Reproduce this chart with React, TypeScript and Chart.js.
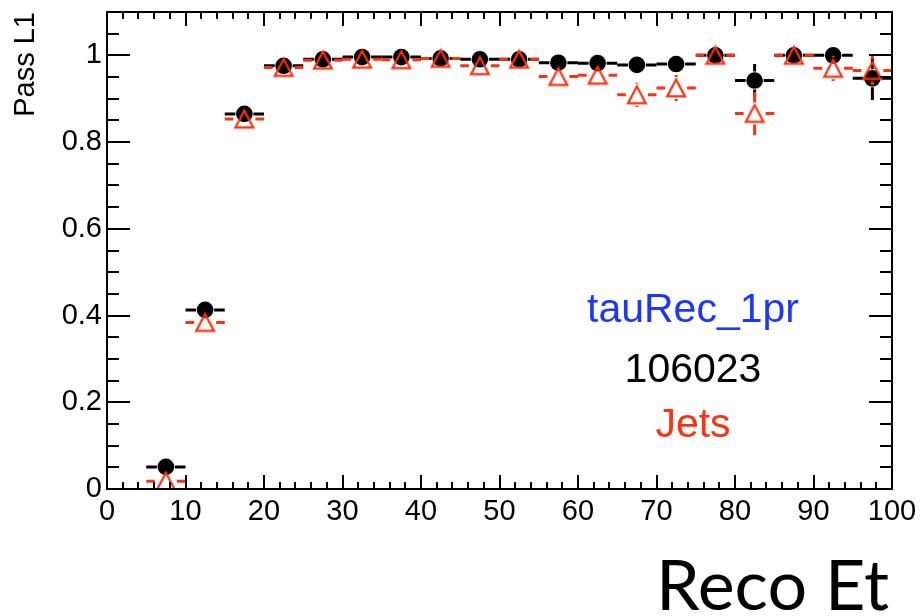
import React, { useEffect, useRef } from "react";
import { Chart, registerables } from "chart.js";

Chart.register(...registerables);

// ---- data ----
const BIN_CENTERS = [7.5, 12.5, 17.5, 22.5, 27.5, 32.5, 37.5, 42.5, 47.5, 52.5, 57.5, 62.5, 67.5, 72.5, 77.5, 82.5, 87.5, 92.5, 97.5];
const BIN_HALF_WIDTH = 2.5;
const TAU_EFF = [0.051, 0.413, 0.865, 0.976, 0.991, 0.996, 0.996, 0.993, 0.991, 0.991, 0.983, 0.982, 0.978, 0.98, 1.0, 0.942, 1.0, 1.0, 0.947];
const TAU_ERR = [0.01, 0.015, 0.01, 0.005, 0.004, 0.003, 0.003, 0.003, 0.004, 0.004, 0.008, 0.008, 0.01, 0.01, 0.002, 0.038, 0.002, 0.004, 0.05];
const JET_EFF = [0.018, 0.384, 0.853, 0.972, 0.989, 0.991, 0.99, 0.993, 0.976, 0.991, 0.951, 0.954, 0.909, 0.925, 1.0, 0.866, 1.0, 0.97, 0.965];
const JET_ERR = [0.008, 0.015, 0.012, 0.006, 0.004, 0.004, 0.004, 0.004, 0.008, 0.004, 0.012, 0.012, 0.028, 0.03, 0.002, 0.05, 0.002, 0.029, 0.034];
const X_TICKS = [0, 10, 20, 30, 40, 50, 60, 70, 80, 90, 100];
const Y_TICKS = [0, 0.2, 0.4, 0.6, 0.8, 1];
const X_MINOR_STEP = 2;
const Y_MINOR_STEP = 0.05;
const X_RANGE = [0, 100];
const Y_RANGE = [0, 1.1];
const LABELS = ["tauRec_1pr", "106023", "Jets"];
const X_TITLE = "Reco Et";
const Y_TITLE = "Pass L1";

const BLACK = "#000000";
const RED = "#ff3010";
const BLUE = "#1a36ff";
const FONT = "'Liberation Sans', Arial, Helvetica, sans-serif";

function makeTriangle(color: string): HTMLCanvasElement {
  const c = document.createElement("canvas");
  c.width = 22;
  c.height = 22;
  const g = c.getContext("2d")!;
  g.strokeStyle = color;
  g.lineWidth = 2.2;
  g.lineJoin = "miter";
  g.beginPath();
  g.moveTo(11, 2.5);
  g.lineTo(19.9, 19.4);
  g.lineTo(2.1, 19.4);
  g.closePath();
  g.stroke();
  return c;
}

const errorPlugin = {
  id: "rootErrors",
  beforeDatasetDraw(chart: any, args: any) {
    const ds = chart.data.datasets[args.index];
    const errs: number[] = ds.errs;
    const gap: number = ds.gap;
    const xs = chart.scales.x;
    const ys = chart.scales.y;
    const ctx = chart.ctx;
    ctx.save();
    ctx.strokeStyle = ds.errColor;
    ctx.lineWidth = 3;
    ctx.lineCap = "butt";
    ds.data.forEach((p: any, i: number) => {
      const px = xs.getPixelForValue(p.x);
      const py = ys.getPixelForValue(p.y);
      const x0 = xs.getPixelForValue(p.x - BIN_HALF_WIDTH);
      const x1 = xs.getPixelForValue(p.x + BIN_HALF_WIDTH);
      ctx.beginPath();
      ctx.moveTo(x0, py);
      ctx.lineTo(px - gap, py);
      ctx.moveTo(px + gap, py);
      ctx.lineTo(x1, py);
      const top = ys.getPixelForValue(p.y + errs[i]);
      const bot = ys.getPixelForValue(p.y - errs[i]);
      if (py - top > gap) {
        ctx.moveTo(px, py - gap);
        ctx.lineTo(px, top);
      }
      if (bot - py > gap) {
        ctx.moveTo(px, py + gap);
        ctx.lineTo(px, bot);
      }
      ctx.stroke();
    });
    ctx.restore();
  },
};

const framePlugin = {
  id: "rootFrame",
  afterDraw(chart: any) {
    const { ctx, chartArea } = chart;
    const { left, right, top, bottom } = chartArea;
    const xs = chart.scales.x;
    const ys = chart.scales.y;
    ctx.save();
    ctx.strokeStyle = BLACK;
    ctx.lineWidth = 2;
    ctx.strokeRect(left, top, right - left, bottom - top);
    ctx.beginPath();
    // x ticks
    for (let v = X_RANGE[0]; v <= X_RANGE[1] + 1e-9; v += X_MINOR_STEP) {
      const major = X_TICKS.some((t) => Math.abs(t - v) < 1e-6);
      const len = major ? 14 : 7;
      const px = Math.round(xs.getPixelForValue(v));
      ctx.moveTo(px, bottom);
      ctx.lineTo(px, bottom - len);
      ctx.moveTo(px, top);
      ctx.lineTo(px, top + len);
    }
    // y ticks
    for (let k = 0; k * Y_MINOR_STEP <= Y_RANGE[1] + 1e-9; k++) {
      const v = k * Y_MINOR_STEP;
      const major = Y_TICKS.some((t) => Math.abs(t - v) < 1e-6);
      const len = major ? 23 : 12;
      const py = Math.round(ys.getPixelForValue(v));
      ctx.moveTo(left, py);
      ctx.lineTo(left + len, py);
      ctx.moveTo(right, py);
      ctx.lineTo(right - len, py);
    }
    ctx.stroke();

    // y title
    ctx.fillStyle = BLACK;
    ctx.font = `29px ${FONT}`;
    ctx.save();
    ctx.translate(34, 12);
    ctx.rotate(-Math.PI / 2);
    ctx.textAlign = "right";
    ctx.textBaseline = "alphabetic";
    ctx.fillText(Y_TITLE, 0, 0);
    ctx.restore();

    // annotation texts
    ctx.font = `41px ${FONT}`;
    ctx.textAlign = "center";
    ctx.textBaseline = "alphabetic";
    const colors = [BLUE, BLACK, RED];
    const baselines = [322, 382, 437];
    LABELS.forEach((t, i) => {
      ctx.fillStyle = colors[i];
      ctx.fillText(t, 693, baselines[i]);
    });

    // x title
    ctx.fillStyle = BLACK;
    ctx.font = `70px Lato, 'Open Sans', sans-serif`;
    ctx.textAlign = "right";
    ctx.fillText(X_TITLE, 889, 610);
    ctx.restore();
  },
};

export default function App() {
  const ref = useRef<HTMLCanvasElement>(null);
  useEffect(() => {
    const canvas = ref.current!;
    const chart = new Chart(canvas, {
      type: "scatter",
      data: {
        datasets: [
          {
            label: "Jets",
            data: BIN_CENTERS.map((x, i) => ({ x, y: JET_EFF[i] })),
            pointStyle: makeTriangle(RED) as any,
            pointRadius: 10,
            showLine: false,
            errs: JET_ERR,
            gap: 11,
            errColor: RED,
          } as any,
          {
            label: "tauRec_1pr",
            data: BIN_CENTERS.map((x, i) => ({ x, y: TAU_EFF[i] })),
            pointStyle: "circle",
            pointRadius: 8.3,
            pointBorderWidth: 0,
            backgroundColor: BLACK,
            borderColor: BLACK,
            showLine: false,
            errs: TAU_ERR,
            gap: 9,
            errColor: BLACK,
          } as any,
        ],
      },
      options: {
        animation: false,
        responsive: true,
        maintainAspectRatio: false,
        layout: { padding: { top: 12, right: 28, left: 0, bottom: 0 } },
        plugins: {
          legend: { display: false },
          tooltip: { enabled: false },
        },
        scales: {
          x: {
            type: "linear",
            min: X_RANGE[0],
            max: X_RANGE[1],
            afterBuildTicks: (s: any) => {
              s.ticks = X_TICKS.map((v) => ({ value: v }));
            },
            afterFit: (s: any) => {
              s.height = 127;
              s.paddingLeft = 0;
              s.paddingRight = 0;
              s.paddingTop = 0;
              s.paddingBottom = 0;
            },
            grid: { display: false, drawTicks: false },
            border: { display: false },
            ticks: {
              autoSkip: false,
              maxRotation: 0,
              padding: 6,
              color: BLACK,
              font: { family: FONT, size: 29 },
              callback: (v: any) => String(v),
            },
          },
          y: {
            type: "linear",
            min: Y_RANGE[0],
            max: Y_RANGE[1],
            afterBuildTicks: (s: any) => {
              s.ticks = Y_TICKS.map((v) => ({ value: v }));
            },
            afterFit: (s: any) => {
              s.width = 107;
              s.paddingLeft = 0;
              s.paddingRight = 0;
              s.paddingTop = 0;
              s.paddingBottom = 0;
            },
            grid: { display: false, drawTicks: false },
            border: { display: false },
            ticks: {
              autoSkip: false,
              padding: 5,
              color: BLACK,
              font: { family: FONT, size: 29 },
              callback: (v: any) => String(v),
            },
          },
        },
      },
      plugins: [errorPlugin, framePlugin],
    });
    return () => chart.destroy();
  }, []);
  return (
    <div style={{ position: "fixed", left: 0, top: 0, width: 920, height: 616, background: "#fff" }}>
      <canvas ref={ref} />
    </div>
  );
}
